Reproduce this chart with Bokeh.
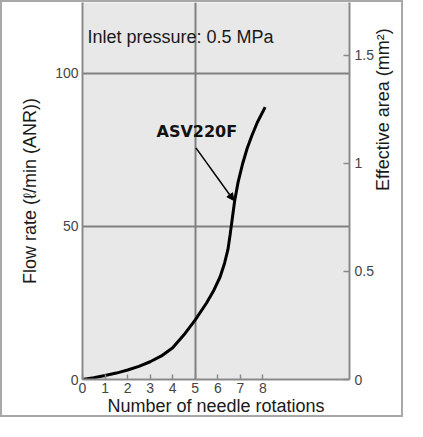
import math
from bokeh.plotting import figure
from bokeh.models import Range1d, LinearAxis, FixedTicker, Label, Arrow, NormalHead
from bokeh.embed import file_html
from bokeh.resources import INLINE

# Data
rotations = [0, 0.5, 1, 1.5, 2, 2.5, 3, 3.5, 4, 4.5, 5, 5.5, 5.8, 6.1, 6.3,
             6.45, 6.55, 6.65, 6.75, 6.9, 7.1, 7.3, 7.5, 7.75, 8.1]
flow_rate = [0, 0.6, 1.3, 2.1, 3.1, 4.3, 5.8, 7.7, 10.4, 14.6, 19.5, 25.0, 28.8,
             33.5, 38.0, 42.5, 47.5, 53.0, 58.5, 64.5, 70.5, 75.5, 79.5, 84.0, 89.0]
x_ticks = [0, 1, 2, 3, 4, 5, 6, 7, 8]
flow_ticks = [0, 50, 100]
area_ticks = [0, 0.5, 1, 1.5]
area_labels = {0: "0", 0.5: "0.5", 1: "1", 1.5: "1.5"}
series_name = "ASV220F"
note = "Inlet pressure: 0.5 MPa"

FONT = "Liberation Sans"
GRID = "#808080"
AXIS = "#8a8a8a"

p = figure(width=403, height=417, output_backend="svg", toolbar_location=None,
           x_range=Range1d(0, 11.84), y_range=Range1d(0, 123.2),
           min_border_left=80, min_border_right=53, min_border_top=0,
           min_border_bottom=40)
p.styles = {"border": "2px solid #a8a8a8"}
p.background_fill_color = "#e8e8e8"
p.border_fill_color = "white"
p.outline_line_color = None

p.extra_y_ranges = {"area": Range1d(0, 1.745)}

# grid
p.xgrid.ticker = FixedTicker(ticks=[5])
p.ygrid.ticker = FixedTicker(ticks=[50, 100])
for g in (p.xgrid, p.ygrid):
    g.grid_line_color = GRID
    g.grid_line_width = 2

# x axis
xa = p.xaxis[0]
xa.ticker = FixedTicker(ticks=x_ticks)
xa.axis_label = "Number of needle rotations"
xa.major_tick_in = 5
xa.major_tick_out = 0
xa.minor_tick_line_color = None
xa.major_label_standoff = 3
xa.axis_label_standoff = 0

# left axis
ya = p.yaxis[0]
ya.ticker = FixedTicker(ticks=flow_ticks)
ya.axis_label = "Flow rate (\u2113/min (ANR))"
ya.major_tick_in = 0
ya.major_tick_out = 0
ya.minor_tick_line_color = None
ya.major_label_standoff = 4
ya.axis_label_standoff = 12

# right axis
ra = LinearAxis(y_range_name="area", ticker=FixedTicker(ticks=area_ticks),
                axis_label="Effective area (mm\u00b2)")
ra.major_label_overrides = area_labels
ra.major_tick_in = 6
ra.major_tick_out = 0
ra.minor_tick_line_color = None
ra.major_label_standoff = 5
ra.axis_label_standoff = 6
ra.axis_label_orientation = math.pi / 2
p.add_layout(ra, "right")

for ax in (xa, ya, ra):
    ax.axis_line_color = AXIS
    ax.axis_line_width = 2
    ax.major_tick_line_color = AXIS
    ax.major_tick_line_width = 1.5
    ax.major_label_text_font = FONT
    ax.major_label_text_font_size = "14px"
    ax.major_label_text_color = "#454545"
    ax.axis_label_text_font = FONT
    ax.axis_label_text_font_size = "18px"
    ax.axis_label_text_font_style = "normal"
    ax.axis_label_text_color = "#1a1a1a"

# curve
p.line(rotations, flow_rate, line_color="black", line_width=3)

# annotations
p.add_layout(Label(x=0.22, y=115.3, text=note, text_font=FONT,
                   text_font_size="18px", text_color="#1a1a1a",
                   text_baseline="top", text_align="left"))
p.add_layout(Label(x=5.07, y=80.9, text=series_name, text_font="DejaVu Sans",
                   text_font_size="16px", text_font_style="bold",
                   text_color="#111111", text_baseline="middle",
                   text_align="center"))
p.add_layout(Arrow(end=NormalHead(size=7, fill_color="black", line_color="black"),
                   x_start=5.03, y_start=75.7, x_end=6.71, y_end=58.5,
                   line_color="black", line_width=1.5))

open("out.html", "w").write(file_html(p, INLINE))
